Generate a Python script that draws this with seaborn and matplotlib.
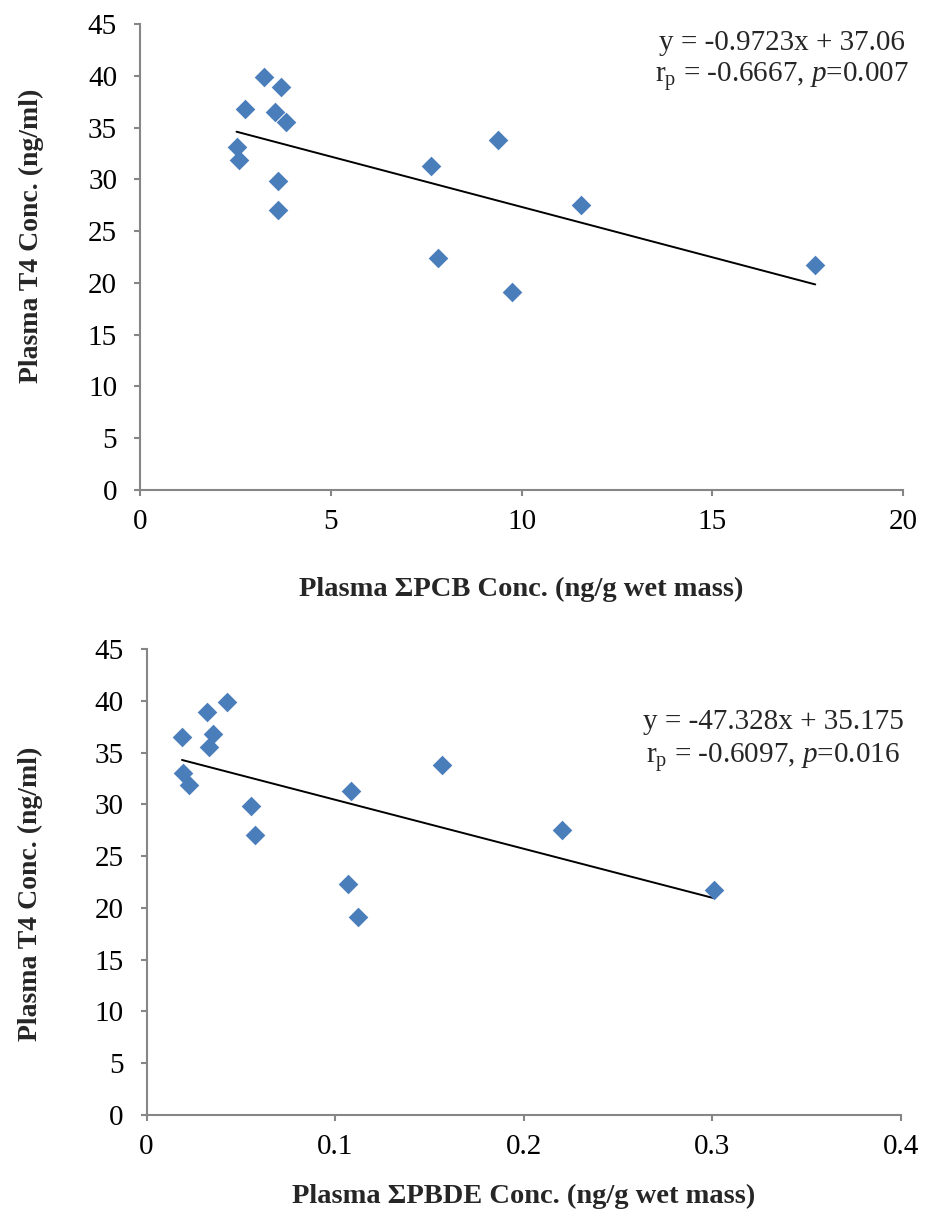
import numpy as np
import matplotlib
matplotlib.use("Agg")
import matplotlib.pyplot as plt
import seaborn as sns
import pandas as pd

# ---- data ----
pcb_x = [3.26, 3.70, 2.74, 3.55, 3.83, 2.53, 2.60, 3.63, 3.61, 7.64, 9.39, 11.55, 7.82, 9.76, 17.70]
pcb_t4 = [39.9, 38.9, 36.8, 36.5, 35.5, 33.1, 31.9, 29.8, 27.0, 31.3, 33.8, 27.5, 22.4, 19.1, 21.7]

pbde_x = [0.0427, 0.0322, 0.0188, 0.0352, 0.0329, 0.0193, 0.0223, 0.0552, 0.0574,
          0.1083, 0.1567, 0.1069, 0.1122, 0.2204, 0.3006]
pbde_t4 = [39.9, 38.9, 36.5, 36.8, 35.5, 33.0, 31.9, 29.8, 27.0, 31.3, 33.8, 22.3, 19.1, 27.5, 21.7]

pcb_fit = (-0.9723, 37.06)
pbde_fit = (-47.328, 35.175)

pcb_text = ["y = -0.9723x + 37.06", r"r$_\mathrm{p}$ = -0.6667, $\mathit{p}$=0.007"]
pbde_text = ["y = -47.328x + 35.175", r"r$_\mathrm{p}$ = -0.6097, $\mathit{p}$=0.016"]

pcb_xticks = [0, 5, 10, 15, 20]
pbde_xticks = [0, 0.1, 0.2, 0.3, 0.4]
pbde_xticklabels = ["0", "0.1", "0.2", "0.3", "0.4"]
yticks = [0, 5, 10, 15, 20, 25, 30, 35, 40, 45]

ylabel = "Plasma T4 Conc. (ng/ml)"
pcb_xlabel = "Plasma ΣPCB Conc. (ng/g wet mass)"
pbde_xlabel = "Plasma ΣPBDE Conc. (ng/g wet mass)"

# ---- style ----
sns.set_style("white")
plt.rcParams["font.family"] = ["Liberation Serif", "DejaVu Serif"]
plt.rcParams["mathtext.fontset"] = "custom"
plt.rcParams["mathtext.rm"] = "Liberation Serif"
plt.rcParams["mathtext.it"] = "Liberation Serif:italic"
plt.rcParams["axes.unicode_minus"] = False

MARK = "#4A7EBB"
AXC = "#868686"

fig = plt.figure(figsize=(9.25, 12.28), dpi=100)
ax1 = fig.add_axes([140 / 925, 1 - 490 / 1228, (903 - 140) / 925, 466 / 1228])
ax2 = fig.add_axes([146.5 / 925, 1 - 1115 / 1228, (901 - 146.5) / 925, 466 / 1228])


def panel(ax, xs, ys, fit, text, xticks, xticklabels, xlabel, xlim, text_xy, ylab_y, xlab_y, ylab_x):
    df = pd.DataFrame({"x": xs, "y": ys})
    sns.scatterplot(data=df, x="x", y="y", ax=ax, marker="D", s=100, color=MARK,
                    linewidth=0, zorder=3)
    xr = np.array([min(xs), max(xs)])
    ax.plot(xr, fit[0] * xr + fit[1], color="black", lw=1.4, zorder=2)
    ax.set_xlim(*xlim)
    ax.set_ylim(0, 45)
    ax.set_xticks(xticks)
    ax.set_xticklabels(xticklabels)
    ax.set_yticks(yticks)
    for s in ["top", "right"]:
        ax.spines[s].set_visible(False)
    for s in ["left", "bottom"]:
        ax.spines[s].set_color(AXC)
        ax.spines[s].set_linewidth(1.5)
    ax.tick_params(axis="both", which="major", direction="out", length=4.5, width=1.5,
                   color=AXC, labelsize=21, labelcolor="black")
    ax.tick_params(axis="y", pad=12)
    ax.tick_params(axis="x", pad=9)
    ax.tick_params(left=True, bottom=True)
    ax.set_xlabel(xlabel, fontsize=20.5, fontweight="bold")
    ax.set_ylabel(ylabel, fontsize=20, fontweight="bold")
    ax.xaxis.set_label_coords(0.5, xlab_y)
    ax.yaxis.set_label_coords(ylab_x, ylab_y)
    ax.text(text_xy[0], text_xy[1][0], text[0], transform=ax.transAxes, ha="center",
            va="center", fontsize=21)
    ax.text(text_xy[0], text_xy[1][1], text[1], transform=ax.transAxes, ha="center",
            va="center", fontsize=21)


panel(ax1, pcb_x, pcb_t4, pcb_fit, pcb_text, pcb_xticks, [str(v) for v in pcb_xticks],
      pcb_xlabel, (0, 20), ((781.5 - 140) / 763, ((490 - 43) / 466, (490 - 77) / 466)),
      0.545, -0.186, -0.126)
panel(ax2, pbde_x, pbde_t4, pbde_fit, pbde_text, pbde_xticks, pbde_xticklabels,
      pbde_xlabel, (0, 0.4), ((773 - 146.5) / 754.5, ((1115 - 722) / 466, (1115 - 757) / 466)),
      0.475, -0.148, -0.137)

fig.savefig("out.png", dpi=100, facecolor="white")
